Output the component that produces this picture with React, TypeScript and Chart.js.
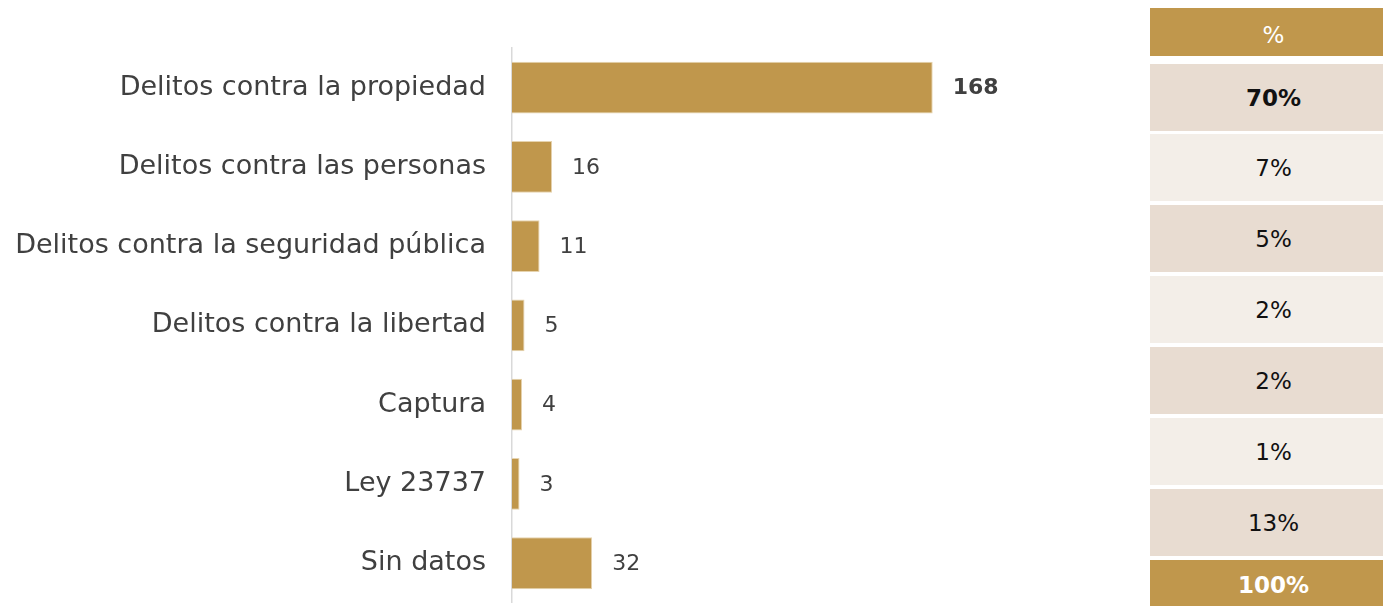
import React, { useEffect, useRef } from "react";
import { Chart, registerables } from "chart.js";

Chart.register(...registerables);

const categories = [
  "Delitos contra la propiedad",
  "Delitos contra las personas",
  "Delitos contra la seguridad pública",
  "Delitos contra la libertad",
  "Captura",
  "Ley 23737",
  "Sin datos",
];
const counts = [168, 16, 11, 5, 4, 3, 32];
const percentLabels = ["70%", "7%", "5%", "2%", "2%", "1%", "13%"];
const headerLabel = "%";
const totalLabel = "100%";

const GOLD = "#C0974C";
const TEXT = "#404040";
const FONT = "'DejaVu Sans', 'Noto Sans', sans-serif";

const valueLabelPlugin = {
  id: "valueLabels",
  afterDatasetsDraw(chart: any) {
    const ctx = chart.ctx;
    const meta = chart.getDatasetMeta(0);
    ctx.save();
    ctx.textBaseline = "middle";
    ctx.textAlign = "left";
    ctx.fillStyle = TEXT;
    meta.data.forEach((bar: any, i: number) => {
      ctx.font = (i === 0 ? "bold " : "") + "22px " + FONT;
      ctx.fillText(String(counts[i]), bar.x + 20, bar.y + 1);
    });
    ctx.restore();
  },
};

export default function App() {
  const ref = useRef<HTMLCanvasElement>(null);
  useEffect(() => {
    if (!ref.current) return;
    const chart = new Chart(ref.current, {
      type: "bar",
      data: {
        labels: categories,
        datasets: [
          {
            data: counts,
            backgroundColor: GOLD,
            borderColor: "#E6D3AE",
            borderWidth: 1,
            categoryPercentage: 1,
            barPercentage: 0.655,
          },
        ],
      },
      options: {
        indexAxis: "y",
        animation: false,
        responsive: false,
        maintainAspectRatio: false,
        layout: { padding: { top: 48, bottom: 2, left: 0, right: 0 } },
        plugins: {
          legend: { display: false },
          tooltip: { enabled: false },
        },
        scales: {
          x: { display: false, min: 0, max: 240 },
          y: {
            grid: { display: false, drawTicks: false },
            border: { display: true, color: "#D9D9D9", width: 1.5 },
            ticks: {
              color: TEXT,
              padding: 26,
              font: { family: FONT, size: 27 },
            },
            afterFit(scale: any) {
              scale.width = 512;
            },
          },
        },
      },
      plugins: [valueLabelPlugin],
    });
    return () => chart.destroy();
  }, []);

  const rowTops = [64, 134, 205, 276, 347, 418, 489];
  return (
    <div style={{ position: "absolute", left: 0, top: 0, width: 1383, height: 606, background: "#fff", overflow: "hidden" }}>
      <canvas ref={ref} width={1113} height={645} style={{ position: "absolute", left: 0, top: 0 }} />
      <div
        style={{
          position: "absolute", left: 1150, top: 8, width: 250, height: 48, background: GOLD,
          color: "#fff", font: "23px " + FONT, display: "flex", alignItems: "center", justifyContent: "center",
          paddingRight: 3, paddingTop: 5, boxSizing: "border-box",
        }}
      >
        {headerLabel}
      </div>
      {percentLabels.map((p, i) => (
        <div
          key={i}
          style={{
            position: "absolute", left: 1150, top: rowTops[i], width: 250, height: 67,
            background: i % 2 === 0 ? "#E8DCD1" : "#F3EEE8", color: "#111",
            font: (i === 0 ? "bold " : "") + "23px " + FONT,
            display: "flex", alignItems: "center", justifyContent: "center",
            paddingRight: 3, boxSizing: "border-box",
          }}
        >
          {p}
        </div>
      ))}
      <div
        style={{
          position: "absolute", left: 1150, top: 560, width: 250, height: 60, background: GOLD,
          color: "#fff", font: "bold 23px " + FONT, display: "flex", alignItems: "flex-start", justifyContent: "center",
          paddingTop: 12, paddingRight: 3, boxSizing: "border-box",
        }}
      >
        {totalLabel}
      </div>
    </div>
  );
}
